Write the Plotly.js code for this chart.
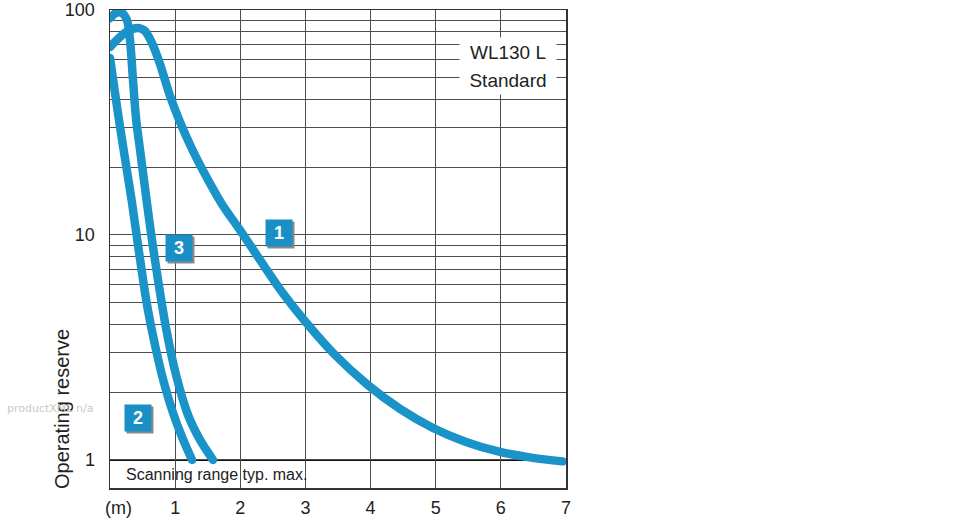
<!DOCTYPE html>
<html>
<head>
<meta charset="utf-8">
<script src="https://cdn.plot.ly/plotly-3.0.1.min.js"></script>
<style>
  html, body { margin: 0; padding: 0; background: #fff; }
  #chart { width: 970px; height: 520px; }
  .scatterlayer .js-line { stroke-linecap: round; }
</style>
</head>
<body>
<div id="chart"></div>
<script>
// Distance (m) and operating reserve for each curve
const curve1X = [0, 0.154, 0.307, 0.430, 0.537, 0.645, 0.768, 0.921, 1.074, 1.259, 1.489, 1.719, 1.996, 2.303, 2.640, 2.978, 3.454, 3.960, 4.452, 4.958, 5.465, 5.987, 6.493, 6.95];
const curve1Y = [68.5, 75.9, 81.5, 83.2, 80.7, 71.3, 57.5, 41.5, 31.8, 24.1, 17.9, 13.7, 10.5, 7.74, 5.58, 4.19, 2.93, 2.15, 1.686, 1.387, 1.202, 1.085, 1.021, 0.985];

const curve2X = [0, 0.077, 0.154, 0.246, 0.338, 0.445, 0.568, 0.691, 0.829, 0.967, 1.105, 1.259];
const curve2Y = [61.2, 42.8, 30.2, 20.5, 13.9, 8.4, 4.89, 3.24, 2.2, 1.62, 1.265, 1.0];

const curve3X = [0, 0.092, 0.184, 0.261, 0.307, 0.353, 0.399, 0.461, 0.537, 0.629, 0.737, 0.860, 1.013, 1.197, 1.382, 1.581];
const curve3Y = [92, 97, 97, 90, 73.6, 48.9, 33.1, 23.9, 16.2, 10.2, 6.31, 3.86, 2.39, 1.585, 1.227, 1.0];

// Curve number badges: label, x, y
const badgeLabels = ['1', '3', '2'];
const badgeX = [2.59, 1.06, 0.43];
const badgeY = [10.2, 8.75, 1.54];

// Axis ticks
const xTickVals = [1, 2, 3, 4, 5, 6, 7];
const xTickText = ['1', '2', '3', '4', '5', '6', '7'];
const yTickVals = [1, 2, 3, 4, 5, 6, 7, 8, 9, 10, 20, 30, 40, 50, 60, 70, 80, 90, 100];
const yTickText = ['1', '', '', '', '', '', '', '', '', '10', '', '', '', '', '', '', '', '', '100'];

const titleLines = ['WL130 L', 'Standard'];
const xUnit = '(m)';
const yTitle = 'Operating reserve';
const rangeNote = 'Scanning range typ. max.';
const watermark = 'productXML n/a';

const blue = '#1a93c8';
const FONT = 'Liberation Sans, Arial, sans-serif';

function curve(x, y) {
  return {
    x: x, y: y, type: 'scatter', mode: 'lines',
    line: { color: blue, width: 8.5, shape: 'spline', smoothing: 0.8 },
    hoverinfo: 'skip', showlegend: false
  };
}

const data = [curve(curve1X, curve1Y), curve(curve2X, curve2Y), curve(curve3X, curve3Y)];

const annotations = [];
for (let i = 0; i < badgeLabels.length; i++) {
  annotations.push({
    x: badgeX[i], y: Math.log10(badgeY[i]), xref: 'x', yref: 'y',
    xanchor: 'center', yanchor: 'middle',
    text: '', showarrow: false, width: 26, height: 26, bgcolor: '#8a8a8a',
    xshift: 2, yshift: -2, borderpad: 0
  });
  annotations.push({
    x: badgeX[i], y: Math.log10(badgeY[i]), xref: 'x', yref: 'y',
    xanchor: 'center', yanchor: 'middle',
    text: '<b>' + badgeLabels[i] + '</b>', showarrow: false, width: 26, height: 26,
    bgcolor: '#1a8fc6', font: { family: FONT, size: 18, color: '#ffffff' }, borderpad: 0
  });
}
annotations.push({
  xref: 'paper', yref: 'paper', x: (508 - 110) / 456, y: (488 - 52) / 478,
  xanchor: 'center', yanchor: 'middle',
  text: titleLines[0], showarrow: false, width: 96, height: 28, bgcolor: '#ffffff',
  font: { family: FONT, size: 19, color: '#222' }, borderpad: 0
});
annotations.push({
  xref: 'paper', yref: 'paper', x: (508 - 110) / 456, y: (488 - 80) / 478,
  xanchor: 'center', yanchor: 'middle',
  text: titleLines[1], showarrow: false, width: 96, height: 28, bgcolor: '#ffffff',
  font: { family: FONT, size: 19, color: '#222' }, borderpad: 0
});
annotations.push({
  xref: 'paper', yref: 'paper', x: (124 - 110) / 456, y: (488 - 474) / 478,
  xanchor: 'left', yanchor: 'middle', text: rangeNote, showarrow: false,
  font: { family: FONT, size: 16, color: '#222' }
});
annotations.push({
  xref: 'paper', yref: 'paper', x: (118 - 110) / 456, y: (488 - 508) / 478,
  xanchor: 'center', yanchor: 'middle', text: xUnit, showarrow: false,
  font: { family: FONT, size: 18, color: '#222' }
});
annotations.push({
  xref: 'paper', yref: 'paper', x: (62 - 110) / 456, y: (488 - 409) / 478,
  xanchor: 'center', yanchor: 'middle', text: yTitle, showarrow: false, textangle: -90,
  font: { family: FONT, size: 20, color: '#222' }
});
annotations.push({
  xref: 'paper', yref: 'paper', x: (5 - 110) / 456, y: (488 - 408) / 478,
  xanchor: 'left', yanchor: 'middle', text: watermark, showarrow: false,
  font: { family: 'DejaVu Sans, sans-serif', size: 11, color: '#c8c8c8' }
});

const layout = {
  width: 970, height: 520,
  margin: { l: 110, r: 404, t: 10, b: 32, pad: 0 },
  paper_bgcolor: '#ffffff', plot_bgcolor: '#ffffff',
  showlegend: false, hovermode: false,
  font: { family: FONT, color: '#222' },
  xaxis: {
    range: [0, 7], tickvals: xTickVals, ticktext: xTickText,
    showgrid: true, gridcolor: '#4d4d4d', gridwidth: 1,
    showline: true, linecolor: '#333', linewidth: 1.5, mirror: true,
    zeroline: false, ticks: '', ticklabelstandoff: 3,
    tickfont: { family: FONT, size: 18, color: '#222' }, fixedrange: true
  },
  yaxis: {
    type: 'log', range: [Math.log10(0.75), 2],
    tickvals: yTickVals, ticktext: yTickText,
    showgrid: true, gridcolor: '#4d4d4d', gridwidth: 1,
    showline: true, linecolor: '#333', linewidth: 1.5, mirror: true,
    zeroline: false, ticks: '', ticklabelstandoff: 10,
    tickfont: { family: FONT, size: 18, color: '#222' }, fixedrange: true
  },
  shapes: [{
    type: 'line', xref: 'paper', yref: 'y', x0: 0, x1: 1, y0: 1, y1: 1,
    line: { color: '#111', width: 2 }, layer: 'below'
  }],
  annotations: annotations
};

Plotly.newPlot('chart', data, layout, { staticPlot: true, displayModeBar: false });
</script>
</body>
</html>
